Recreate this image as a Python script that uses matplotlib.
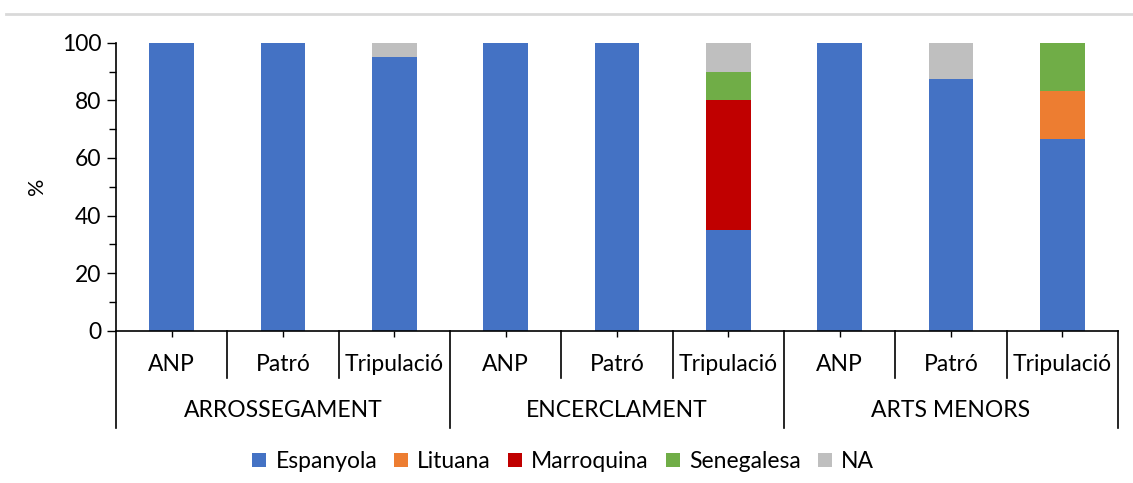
import matplotlib
matplotlib.use("Agg")
import matplotlib.pyplot as plt
from matplotlib.lines import Line2D
import numpy as np

plt.rcParams["font.family"] = ["Lato", "DejaVu Sans"]

groups = ["ARROSSEGAMENT", "ENCERCLAMENT", "ARTS MENORS"]
roles = ["ANP", "Patró", "Tripulació"]
series = ["Espanyola", "Lituana", "Marroquina", "Senegalesa", "NA"]
colors = ["#4472C4", "#ED7D31", "#C00000", "#70AD47", "#BFBFBF"]

espanyola = [100, 100, 95, 100, 100, 35, 100, 87.5, 66.7]
lituana = [0, 0, 0, 0, 0, 0, 0, 0, 16.7]
marroquina = [0, 0, 0, 0, 0, 45, 0, 0, 0]
senegalesa = [0, 0, 0, 0, 0, 10, 0, 0, 16.6]
na = [0, 0, 5, 0, 0, 10, 0, 12.5, 0]

values = [espanyola, lituana, marroquina, senegalesa, na]
FS = 16.5

fig = plt.figure(figsize=(11.33, 4.83), dpi=100)
ax = fig.add_axes([0.1024, 0.3157, 0.8844, 0.5953])

x = np.arange(len(espanyola))
bottom = np.zeros(len(x))
for name, vals, c in zip(series, values, colors):
    ax.bar(x, vals, width=0.4, bottom=bottom, color=c, label=name)
    bottom += np.array(vals)

ax.set_xlim(-0.5, len(x) - 0.5)
ax.set_ylim(0, 100)
ax.set_yticks(range(0, 101, 20))
ax.set_yticks(range(10, 100, 20), minor=True)
ax.tick_params(axis="y", which="major", length=6.5, width=1, labelsize=FS, pad=4)
ax.tick_params(axis="y", which="minor", length=5, width=1)
ax.set_xticks(x)
ax.set_xticklabels([])
ax.tick_params(axis="x", length=4, width=1)
for s in ["top", "right"]:
    ax.spines[s].set_visible(False)
ax.spines["left"].set_linewidth(1.2)
ax.spines["bottom"].set_linewidth(1.2)
ax.set_ylabel("%", fontsize=FS - 1, labelpad=11)

# multi-level category axis
trans = ax.get_xaxis_transform()
ax_h = 0.5953 * 483
inner_y = -47 / ax_h
outer_y = -97 / ax_h
for i, lab in enumerate(roles * len(groups)):
    ax.text(i, -34 / ax_h, lab, transform=trans, ha="center", va="center", fontsize=FS)
for g, lab in enumerate(groups):
    ax.text(g * 3 + 1, -80 / ax_h, lab, transform=trans, ha="center", va="center", fontsize=FS)
for b in np.arange(-0.5, len(x), 1.0):
    ylow = outer_y if (b + 0.5) % 3 == 0 else inner_y
    ax.add_line(Line2D([b, b], [0, ylow], transform=trans, color="black",
                       lw=1.2, clip_on=False))

fig.add_artist(Line2D([0.005, 1.0], [1 - 14 / 483, 1 - 14 / 483],
                      transform=fig.transFigure, color="#d9d9d9", lw=2))

fig.legend(loc="center", bbox_to_anchor=(0.497, 0.044), ncol=5, frameon=False,
           fontsize=FS, handlelength=0.6, handleheight=0.6, handletextpad=0.4,
           columnspacing=0.75)

fig.savefig("out.png", dpi=100)
